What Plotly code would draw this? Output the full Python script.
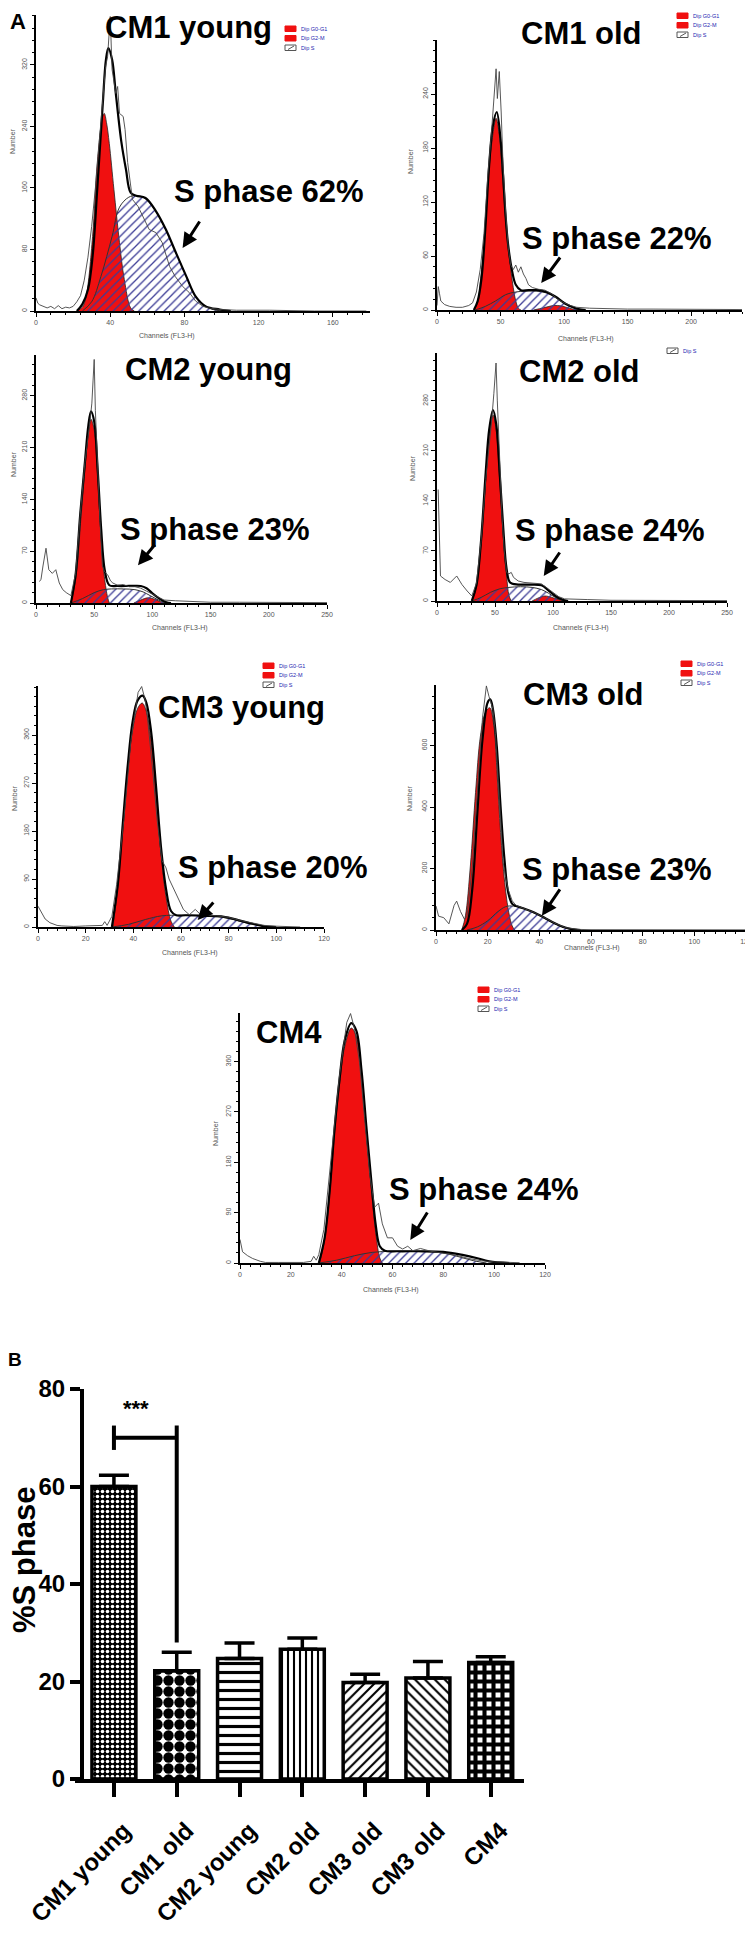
import plotly.graph_objects as go

W, H = 753, 1933

# ---------------- DATA: histograms (channel, count) ----------------
# Panel 1: CM1 young
p1_g1_x = [22, 25, 27, 30.5, 33, 35.9, 36.8, 38, 39.5, 42, 45, 47.6, 51, 53]
p1_g1_y = [0, 5, 19, 97, 192, 253, 257, 245, 218, 158, 89, 41, 4, 0]
p1_s_x = [25, 30, 35, 41, 45, 50, 54, 59, 65, 70, 75, 81, 86, 91.5, 97, 102]
p1_s_y = [0, 12, 45, 97, 135, 148, 150, 146, 128, 105, 78, 45, 19, 6, 1, 0]
p1_env_x = [22, 25, 28, 30.5, 33, 36, 37.7, 39, 41, 43, 46, 48.5, 51, 54, 59, 64.6, 70, 75, 81, 86, 91.5, 99, 105]
p1_env_y = [0, 9, 28, 71, 158, 270, 327, 342, 327, 283, 220, 184, 154, 150, 147, 130, 106, 78, 45, 19, 6, 2, 0]
p1_raw_x = [0, 1, 2, 4, 6, 8, 10, 12, 14, 16, 18, 20, 22, 24, 26, 28, 30, 32, 34, 36, 37.5, 38.6, 39.3, 40,
            41, 42, 43, 44, 45, 47, 48, 49.4, 52, 55, 57.5, 61, 64.6, 68, 72, 75, 79, 82.6, 86, 90, 93, 99,
            108, 126, 150, 178]
p1_raw_y = [17, 10, 8, 6, 4, 6, 3, 7, 3, 5, 4, 6, 12, 20, 40, 70, 110, 160, 220, 280, 318, 331, 360, 383,
            314, 300, 283, 292, 257, 253, 236, 193, 145, 136, 123, 106, 102, 89, 58, 45, 32, 24, 13, 6, 4, 2,
            1, 1, 0, 0]

# Panel 2: CM1 old
p2_g1_x = [29, 32, 34, 37, 40, 43, 46.5, 49, 51.5, 54, 57, 60, 62, 64, 66]
p2_g1_y = [0, 8, 30, 75, 140, 185, 213, 195, 150, 100, 58, 25, 10, 2, 0]
p2_s_x = [30, 38, 46, 54, 62, 70, 78, 86, 92, 98, 104, 110, 115]
p2_s_y = [0, 4, 10, 17, 20, 21, 21, 19, 15, 10, 5, 1, 0]
p2_g2_x = [76, 84, 92, 98, 104, 110]
p2_g2_y = [0, 2.5, 5, 4.5, 2, 0]
p2_env_x = [29, 32, 35, 38, 41, 44, 47, 50, 52, 54, 56, 59, 62, 66, 72, 80, 86, 93, 101, 109, 117]
p2_env_y = [0, 10, 35, 90, 160, 205, 220, 190, 150, 104, 72, 44, 28, 22, 22, 22, 20, 15, 7, 2, 0]
p2_raw_x = [0, 1, 2, 3, 6, 10, 15, 20, 25, 28, 31, 34, 37, 40, 43, 45, 46.5, 47.5, 49, 50.5, 52, 54, 56, 58,
            60, 62, 64, 66, 68, 70, 72, 75, 80, 85, 90, 95, 100, 105, 110, 120, 130, 150, 170, 200, 230, 240]
p2_raw_y = [5, 26, 18, 10, 6, 4, 3, 3, 5, 8, 20, 45, 85, 150, 200, 240, 268, 235, 265, 220, 160, 110, 70, 50,
            45, 50, 42, 48, 40, 35, 28, 25, 23, 22, 18, 12, 8, 5, 3, 2, 1.5, 1, 1, 1, 0.5, 0.5]
p2_gate_x = [46.5]
p2_gate_y = [-6]

# Panel 3: CM2 young
p3_g1_x = [30, 34.4, 38.7, 41.5, 44.4, 47.3, 50, 53, 55.9, 58.7, 61.6, 63]
p3_g1_y = [0, 36, 117, 171, 221, 248, 234, 171, 90, 36, 7, 0]
p3_s_x = [30, 40, 50, 58, 65, 75, 85, 92, 98, 104, 110, 115]
p3_s_y = [0, 6, 14, 18, 19, 19, 18, 15, 10, 5, 1, 0]
p3_g2_x = [84, 90, 96, 102, 108, 112]
p3_g2_y = [0, 4, 7, 5, 1, 0]
p3_env_x = [30, 34, 38, 42, 45, 47.3, 50, 53, 56, 59, 63, 70, 80, 90, 95, 100, 106, 112, 116]
p3_env_y = [0, 38, 120, 190, 240, 259, 245, 180, 100, 45, 24, 23, 23, 23, 20, 13, 6, 1, 0]
p3_raw_x = [3, 4.3, 6, 8.6, 11, 14, 17, 20, 23, 26, 30, 34, 38, 42, 46, 48, 49, 50, 51, 53, 55, 57, 59, 61.6,
            64, 66, 70, 75, 80, 85, 90, 95, 100, 105, 110, 120, 130, 150, 175, 200, 225, 250]
p3_raw_y = [29, 32, 50, 74, 45, 40, 45, 27, 18, 14, 10, 40, 120, 190, 240, 270, 300, 329, 260, 180, 110, 50,
            42, 38, 30, 27, 24, 25, 22, 22, 20, 16, 12, 7, 4, 3, 2, 1, 1, 1, 0.5, 0.5]
p3_gate_x = [48.7]
p3_gate_y = [-7]

# Panel 4: CM2 old
p4_g1_x = [30, 34, 38, 42, 45, 48.3, 51, 54, 57, 60, 62, 64]
p4_g1_y = [0, 20, 80, 170, 230, 260, 240, 170, 95, 35, 8, 0]
p4_s_x = [30, 38, 46, 54, 62, 72, 82, 90, 96, 102, 108, 112]
p4_s_y = [0, 5, 12, 17, 19, 20, 19, 16, 11, 5, 1, 0]
p4_g2_x = [82, 87, 93, 99, 105, 110]
p4_g2_y = [0, 4, 7, 5, 2, 0]
p4_env_x = [30, 34, 38, 42, 45, 48.3, 51, 54, 57, 60, 63, 70, 80, 90, 96, 102, 108, 113]
p4_env_y = [0, 22, 85, 180, 240, 267, 248, 180, 105, 45, 26, 23, 23, 22, 15, 7, 2, 0]
p4_raw_x = [1, 3, 7, 11.5, 17, 21.5, 26, 30, 34, 38, 42, 44, 47, 49, 50.9, 52, 54, 56, 58, 60, 62, 64, 66,
            70, 75, 80, 85, 90, 95, 100, 105, 110, 120, 130, 150, 175, 200, 225, 250]
p4_raw_y = [156, 35, 30, 26, 35, 23, 14, 7, 25, 85, 170, 200, 250, 290, 333, 280, 200, 120, 70, 40, 38, 40,
            33, 28, 26, 25, 25, 24, 18, 12, 6, 3, 2, 2, 1, 1, 1, 0.5, 0.5]
p4_gate_x = [49.7]
p4_gate_y = [-7]

# Panel 5: CM3 young
p5_g1_x = [31.4, 33.5, 35.6, 37.7, 39.7, 41.8, 43.7, 45.3, 47.4, 49.5, 51.6, 53.7, 55.8, 57.2]
p5_g1_y = [0, 76, 189, 295, 370, 410, 420, 407, 351, 251, 139, 57, 11, 0]
p5_s_x = [31, 38, 45, 52, 60, 68, 75, 82, 88, 93, 98]
p5_s_y = [0, 5, 14, 21, 22, 22, 20, 14, 7, 3, 0]
p5_env_x = [31, 33.5, 35.6, 37.7, 39.7, 41.8, 43.9, 45.5, 47.5, 49.5, 51.6, 53.7, 55.8, 58, 62, 70, 78, 84,
            90, 95.5, 100]
p5_env_y = [0, 80, 195, 305, 385, 425, 434, 420, 365, 265, 150, 72, 30, 22, 22, 21, 19, 13, 6, 1, 0]
p5_raw_x = [0, 1, 3, 5, 8, 10, 15, 20, 25, 27, 28, 29, 31, 33, 36, 39, 42, 43.5, 45, 46, 48, 50, 52, 53.7,
            55, 57, 59, 61, 63.5, 66, 68, 70, 75, 80, 85, 90, 95, 100, 106, 110]
p5_raw_y = [39, 30, 15, 8, 3, 2, 1, 2, 2, 3, 10, 3, 20, 80, 200, 350, 440, 451, 425, 390, 300, 200, 125, 111,
            90, 70, 51, 33, 23, 33, 24, 22, 21, 18, 12, 7, 3, 1.5, 0.5, 0]

# Panel 6: CM3 old
p6_g1_x = [10, 11.4, 13.3, 15.3, 17.2, 19.1, 20.8, 22.4, 23.7, 25, 26.6, 28.2, 29.5, 30.5]
p6_g1_y = [0, 46, 208, 447, 631, 707, 723, 664, 501, 317, 154, 56, 13, 0]
p6_s_x = [12, 16, 20, 24, 27, 30, 34, 38, 42, 46, 50, 53]
p6_s_y = [0, 10, 30, 60, 76, 78, 70, 55, 38, 20, 7, 0]
p6_env_x = [10, 12, 14, 16, 18, 20, 21, 22, 23.5, 25, 26.5, 28, 29.5, 31, 34, 38, 42, 46, 50, 54, 56]
p6_env_y = [0, 20, 130, 380, 620, 740, 750, 720, 600, 400, 230, 120, 85, 78, 70, 57, 40, 22, 8, 1, 0]
p6_raw_x = [0, 1, 3, 5, 7, 8, 9.5, 11, 12, 14, 16, 18, 19.5, 20.5, 22, 23, 24, 25, 26, 27, 28, 29.5, 31, 34,
            38, 42, 46, 50, 55, 60, 70, 80, 100, 120]
p6_raw_y = [78, 45, 40, 20, 80, 94, 60, 35, 45, 200, 450, 690, 794, 760, 720, 640, 500, 340, 220, 170, 130,
            95, 80, 70, 57, 40, 22, 8, 2, 1, 1, 0.5, 0.5, 0.5]

# Panel 7: CM4
p7_g1_x = [31.3, 33.3, 35.3, 37.2, 39.2, 41.2, 43.8, 45.8, 47.8, 49.7, 51.7, 53.4, 55, 56]
p7_g1_y = [0, 42, 125, 232, 321, 387, 420, 405, 333, 232, 131, 54, 9, 0]
p7_s_x = [31, 38, 45, 52, 60, 68, 76, 82, 87, 92, 97]
p7_s_y = [0, 5, 13, 19, 21, 21, 20, 16, 10, 4, 0]
p7_env_x = [31, 33.3, 35.3, 37.2, 39.2, 41.2, 43.8, 45.8, 47.8, 49.7, 51.7, 53.4, 55, 57, 62, 70, 80, 88,
            93, 98, 106]
p7_env_y = [0, 45, 130, 240, 330, 398, 429, 415, 345, 245, 145, 68, 30, 22, 21, 21, 20, 14, 9, 3, 0]
p7_raw_x = [0, 1, 3, 5, 8, 10, 15, 20, 25, 28, 29, 30, 31, 33, 36, 39, 42, 43.5, 45, 47, 49, 51, 53, 54.5,
            56, 58, 60, 62, 64, 66, 68, 71, 75, 80, 85, 90, 95, 100, 105, 110]
p7_raw_y = [42, 20, 13, 8, 3, 1, 1, 1, 1, 3, 12, 5, 15, 60, 190, 330, 430, 446, 420, 360, 260, 160, 100, 107,
            70, 45, 45, 30, 25, 30, 22, 26, 21, 18, 14, 8, 4, 2, 1, 0.5]

panel_titles = ["CM1 young", "CM1 old", "CM2 young", "CM2 old", "CM3 young", "CM3 old", "CM4"]
panel_sphase = ["S phase 62%", "S phase 22%", "S phase 23%", "S phase 24%", "S phase 20%", "S phase 23%",
                "S phase 24%"]
panel_xticks = [[0, 40, 80, 120, 160], [0, 50, 100, 150, 200], [0, 50, 100, 150, 200, 250],
                [0, 50, 100, 150, 200, 250], [0, 20, 40, 60, 80, 100, 120], [0, 20, 40, 60, 80, 100, 120],
                [0, 20, 40, 60, 80, 100, 120]]
panel_yticks = [[0, 80, 160, 240, 320], [0, 60, 120, 180, 240], [0, 70, 140, 210, 280],
                [0, 70, 140, 210, 280], [0, 90, 180, 270, 360], [0, 200, 400, 600], [0, 90, 180, 270, 360]]
panel_xmax = [180, 240, 250, 250, 120, 120, 120]
panel_ymax = [385, 300, 335, 347, 452, 797, 447]
legend_labels = ["Dip G0-G1", "Dip G2-M", "Dip S"]

# ---------------- DATA: bar chart ----------------
bar_labels = ["CM1 young", "CM1 old", "CM2 young", "CM2 old", "CM3 old", "CM3 old", "CM4"]
bar_values = [60.0, 22.2, 24.7, 26.6, 19.8, 20.7, 23.9]
bar_errors = [2.3, 3.8, 3.2, 2.3, 1.7, 3.4, 1.2]
bar_yticks = [0, 20, 40, 60, 80]
sig_text = "***"
sig_text_y = 76
sig_bracket_y = 70
sig_left_top, sig_left_bottom = 72.5, 67.5
sig_right_top, sig_right_bottom = 72.5, 28

# ---------------- layout geometry (pixels, shifted by a small calibration offset) ----------------
OFF = 5


def fx(p):
    return (p - OFF) / W


def fy(p):
    return 1 - (p - OFF) / H


# (x0, x1, ytop, ybottom)
panel_box = [(33, 367, 12, 308), (434, 739, 37, 307), (33, 324, 352, 600), (434, 724, 350, 598),
             (35, 321, 683, 924), (433, 743, 682, 927), (237, 542, 1010, 1260)]
title_pos = [(185, 25), (578, 30), (205, 366), (576, 369), (238, 705), (580, 692), (286, 1029)]
sphase_pos = [(266, 188), (614, 236), (212, 526), (607, 528), (270, 864), (614, 866), (481, 1186)]
arrow_head = [(79, 82), (82, 30), (87.6, 51), (92, 35), (67, 13), (41, 46), (67, 41)]
arrow_tail = [(18, -28), (20, -27), (18, -22), (17, -25), (17, -19), (19, -28), (18, -29)]
number_pos = [(10, 138), (407, 158), (11, 461), (409, 465), (11, 795), (406, 795), (212, 1130)]
chan_pos = [(164, 333), (583, 336), (177, 625), (578, 625), (187, 950), (589, 945), (388, 1287)]
legend_pos = [(282, 23, 3), (674, 10, 3), None, (664, 345, 1), (260, 660, 3), (678, 658, 3), (475, 984, 3)]

panels = [
    dict(g1=(p1_g1_x, p1_g1_y), s=(p1_s_x, p1_s_y), g2=None, env=(p1_env_x, p1_env_y), raw=(p1_raw_x, p1_raw_y), gate=None),
    dict(g1=(p2_g1_x, p2_g1_y), s=(p2_s_x, p2_s_y), g2=(p2_g2_x, p2_g2_y), env=(p2_env_x, p2_env_y), raw=(p2_raw_x, p2_raw_y), gate=(p2_gate_x, p2_gate_y)),
    dict(g1=(p3_g1_x, p3_g1_y), s=(p3_s_x, p3_s_y), g2=(p3_g2_x, p3_g2_y), env=(p3_env_x, p3_env_y), raw=(p3_raw_x, p3_raw_y), gate=(p3_gate_x, p3_gate_y)),
    dict(g1=(p4_g1_x, p4_g1_y), s=(p4_s_x, p4_s_y), g2=(p4_g2_x, p4_g2_y), env=(p4_env_x, p4_env_y), raw=(p4_raw_x, p4_raw_y), gate=(p4_gate_x, p4_gate_y)),
    dict(g1=(p5_g1_x, p5_g1_y), s=(p5_s_x, p5_s_y), g2=None, env=(p5_env_x, p5_env_y), raw=(p5_raw_x, p5_raw_y), gate=None),
    dict(g1=(p6_g1_x, p6_g1_y), s=(p6_s_x, p6_s_y), g2=None, env=(p6_env_x, p6_env_y), raw=(p6_raw_x, p6_raw_y), gate=None),
    dict(g1=(p7_g1_x, p7_g1_y), s=(p7_s_x, p7_s_y), g2=None, env=(p7_env_x, p7_env_y), raw=(p7_raw_x, p7_raw_y), gate=None),
]

RED = "#f01010"
HATCH = "#3c3c96"
SMALL = "#555555"
FONT = "Liberation Sans, Arial, sans-serif"
NARROW = "Liberation Sans Narrow, Arial Narrow, Liberation Sans, Arial, sans-serif"

fig = go.Figure()
layout = dict(template="none", width=W, height=H, autosize=False, margin=dict(l=0, r=0, t=0, b=0, pad=0),
              paper_bgcolor="white", plot_bgcolor="rgba(0,0,0,0)", showlegend=False,
              font=dict(family=FONT, color="black"))
annotations = []
shapes = []


def label(text, px, py, size, color="black", angle=0, family=FONT, xanchor="center"):
    annotations.append(dict(text=text, x=fx(px), y=fy(py), xref="paper", yref="paper", showarrow=False,
                            xanchor=xanchor, yanchor="middle", textangle=angle,
                            font=dict(size=size, color=color, family=family)))


for i, p in enumerate(panels):
    n = i + 1
    xa = "x" if n == 1 else f"x{n}"
    ya = "y" if n == 1 else f"y{n}"
    x0, x1, yt, yb = panel_box[i]
    xt = panel_xticks[i]
    yt_ = panel_yticks[i]
    xmaj = xt[1] - xt[0]
    ymaj = yt_[1] - yt_[0]
    layout["xaxis" if n == 1 else f"xaxis{n}"] = dict(
        domain=[fx(x0), fx(x1)], range=[0, panel_xmax[i]], anchor=ya, automargin=False,
        showline=True, linecolor="black", linewidth=1.5, showgrid=False, zeroline=False,
        ticks="outside", ticklen=4, tickwidth=1, tickcolor="black", tickvals=xt,
        tickfont=dict(size=7, color=SMALL), fixedrange=True,
        minor=dict(ticks="outside", ticklen=2.5, tickwidth=1, tickcolor="black", dtick=xmaj / 5, showgrid=False))
    layout["yaxis" if n == 1 else f"yaxis{n}"] = dict(
        domain=[fy(yb), fy(yt)], range=[0, panel_ymax[i]], anchor=xa, automargin=False,
        showline=True, linecolor="black", linewidth=1.5, showgrid=False, zeroline=False,
        ticks="outside", ticklen=4, tickwidth=1, tickcolor="black", tickvals=yt_, tickangle=-90,
        tickfont=dict(size=7, color=SMALL), fixedrange=True,
        minor=dict(ticks="outside", ticklen=2.5, tickwidth=1, tickcolor="black", dtick=ymaj / 5, showgrid=False))

    gx, gy = p["g1"]
    fig.add_trace(go.Scatter(x=gx, y=gy, xaxis=xa, yaxis=ya, mode="lines", line=dict(color="#222", width=0.8, shape="spline"),
                             fill="tozeroy", fillcolor=RED, hoverinfo="skip"))
    if p["g2"] is not None:
        g2x, g2y = p["g2"]
        fig.add_trace(go.Scatter(x=g2x, y=g2y, xaxis=xa, yaxis=ya, mode="lines", line=dict(color="#222", width=0.8, shape="spline"),
                                 fill="tozeroy", fillcolor=RED, hoverinfo="skip"))
    sx, sy = p["s"]
    fig.add_trace(go.Scatter(x=sx, y=sy, xaxis=xa, yaxis=ya, mode="lines", line=dict(color="#333", width=1, shape="spline"),
                             fill="tozeroy",
                             fillpattern=dict(shape="/", fgcolor=HATCH, bgcolor="rgba(0,0,0,0)", size=6, solidity=0.22),
                             hoverinfo="skip"))
    ex, ey = p["env"]
    fig.add_trace(go.Scatter(x=ex, y=ey, xaxis=xa, yaxis=ya, mode="lines", line=dict(color="black", width=2.2, shape="spline"),
                             hoverinfo="skip"))
    rx, ry = p["raw"]
    fig.add_trace(go.Scatter(x=rx, y=ry, xaxis=xa, yaxis=ya, mode="lines", line=dict(color="#444", width=0.9),
                             hoverinfo="skip"))
    if p["gate"] is not None:
        tx, ty = p["gate"]
        fig.add_trace(go.Scatter(x=tx, y=ty, xaxis=xa, yaxis=ya, mode="markers", cliponaxis=False,
                                 marker=dict(symbol="triangle-up", size=7, color="black"), hoverinfo="skip"))

    tx_, ty_ = title_pos[i]
    label(f"<b>{panel_titles[i]}</b>", tx_, ty_, 31)
    sx_, sy_ = sphase_pos[i]
    label(f"<b>{panel_sphase[i]}</b>", sx_, sy_, 31)
    hx, hy = arrow_head[i]
    ax_, ay_ = arrow_tail[i]
    annotations.append(dict(text="", x=hx, y=hy, xref=xa, yref=ya, showarrow=True, ax=ax_, ay=ay_,
                            arrowhead=2, arrowsize=1, arrowwidth=3, arrowcolor="black"))
    nx, ny = number_pos[i]
    label("Number", nx, ny, 7, color=SMALL, angle=-90)
    cx, cy = chan_pos[i]
    label("Channels (FL3-H)", cx, cy, 7, color=SMALL)
    lg = legend_pos[i]
    if lg is not None:
        lx, ly, cnt = lg
        items = legend_labels if cnt == 3 else legend_labels[2:]
        for k, lab in enumerate(items):
            top = ly + k * 9.5
            is_s = lab == "Dip S"
            shapes.append(dict(type="rect", xref="paper", yref="paper", x0=fx(lx), x1=fx(lx + 11),
                               y0=fy(top + 5.5), y1=fy(top), fillcolor="white" if is_s else RED,
                               line=dict(color="#555" if is_s else RED, width=1)))
            if is_s:
                shapes.append(dict(type="line", xref="paper", yref="paper", x0=fx(lx + 3), x1=fx(lx + 9),
                                   y0=fy(top + 4.5), y1=fy(top + 1), line=dict(color="#555", width=1)))
            label(lab, lx + 14, top + 2.8, 5.5, color="#2323b0", xanchor="left")

# ---------------- bar chart (panel B) ----------------
bar_x = list(range(len(bar_labels)))
fig.add_trace(go.Bar(
    x=bar_x, y=bar_values, xaxis="x8", yaxis="y8", width=0.7,
    marker=dict(color="white", line=dict(color="black", width=3.5),
                pattern=dict(shape=[".", ".", "-", "|", "/", "\\", "+"],
                             fgcolor=["white", "black", "black", "black", "black", "black", "black"],
                             bgcolor=["black", "white", "white", "white", "white", "white", "white"],
                             size=[5, 11, 9, 6, 7, 7, 9],
                             solidity=[0.4, 0.7, 0.35, 0.35, 0.3, 0.3, 0.7],
                             fillmode="replace")),
    error_y=dict(type="data", array=bar_errors, arrayminus=[0] * len(bar_errors), symmetric=False,
                 thickness=3.5, width=15, color="black"),
    hoverinfo="skip"))

layout["xaxis8"] = dict(domain=[fx(72), fx(521)], range=[-0.62, 6.53], anchor="y8", automargin=False,
                        showline=True, linecolor="black", linewidth=4, showgrid=False, zeroline=False,
                        ticks="outside", ticklen=14, tickwidth=3.5, tickcolor="black",
                        tickvals=bar_x, ticktext=[f"<b>{t}</b>" for t in bar_labels], tickangle=-45,
                        ticklabelstandoff=10, ticklabelshift=10,
                        tickfont=dict(size=24, family=FONT, color="black"), fixedrange=True)
layout["yaxis8"] = dict(domain=[fy(1776), fy(1386)], range=[0, 80], anchor="free", position=fx(79),
                        automargin=False,
                        showline=True, linecolor="black", linewidth=4, showgrid=False, zeroline=False,
                        ticks="outside", ticklen=10, tickwidth=3.5, tickcolor="black",
                        tickvals=bar_yticks, ticktext=[f"<b>{t}</b>" for t in bar_yticks],
                        tickfont=dict(size=24, family=NARROW, color="black"), fixedrange=True)

for (xa0, ya0, xa1, ya1) in [(0, sig_left_bottom, 0, sig_left_top), (0, sig_bracket_y, 1, sig_bracket_y),
                             (1, sig_right_bottom, 1, sig_right_top)]:
    shapes.append(dict(type="line", xref="x8", yref="y8", x0=xa0, y0=ya0, x1=xa1, y1=ya1,
                       line=dict(color="black", width=4)))
annotations.append(dict(text=f"<b>{sig_text}</b>", x=0.35, y=sig_text_y, xref="x8", yref="y8", showarrow=False,
                        xanchor="center", yanchor="middle", font=dict(size=22, family=FONT)))
label("<b>%S phase</b>", 21, 1557, 31, angle=-90)
label("<b>A</b>", 15, 18, 22)
label("<b>B</b>", 12, 1356, 19)

layout["annotations"] = annotations
layout["shapes"] = shapes
fig.update_layout(**layout)
fig.write_html("out.html")
